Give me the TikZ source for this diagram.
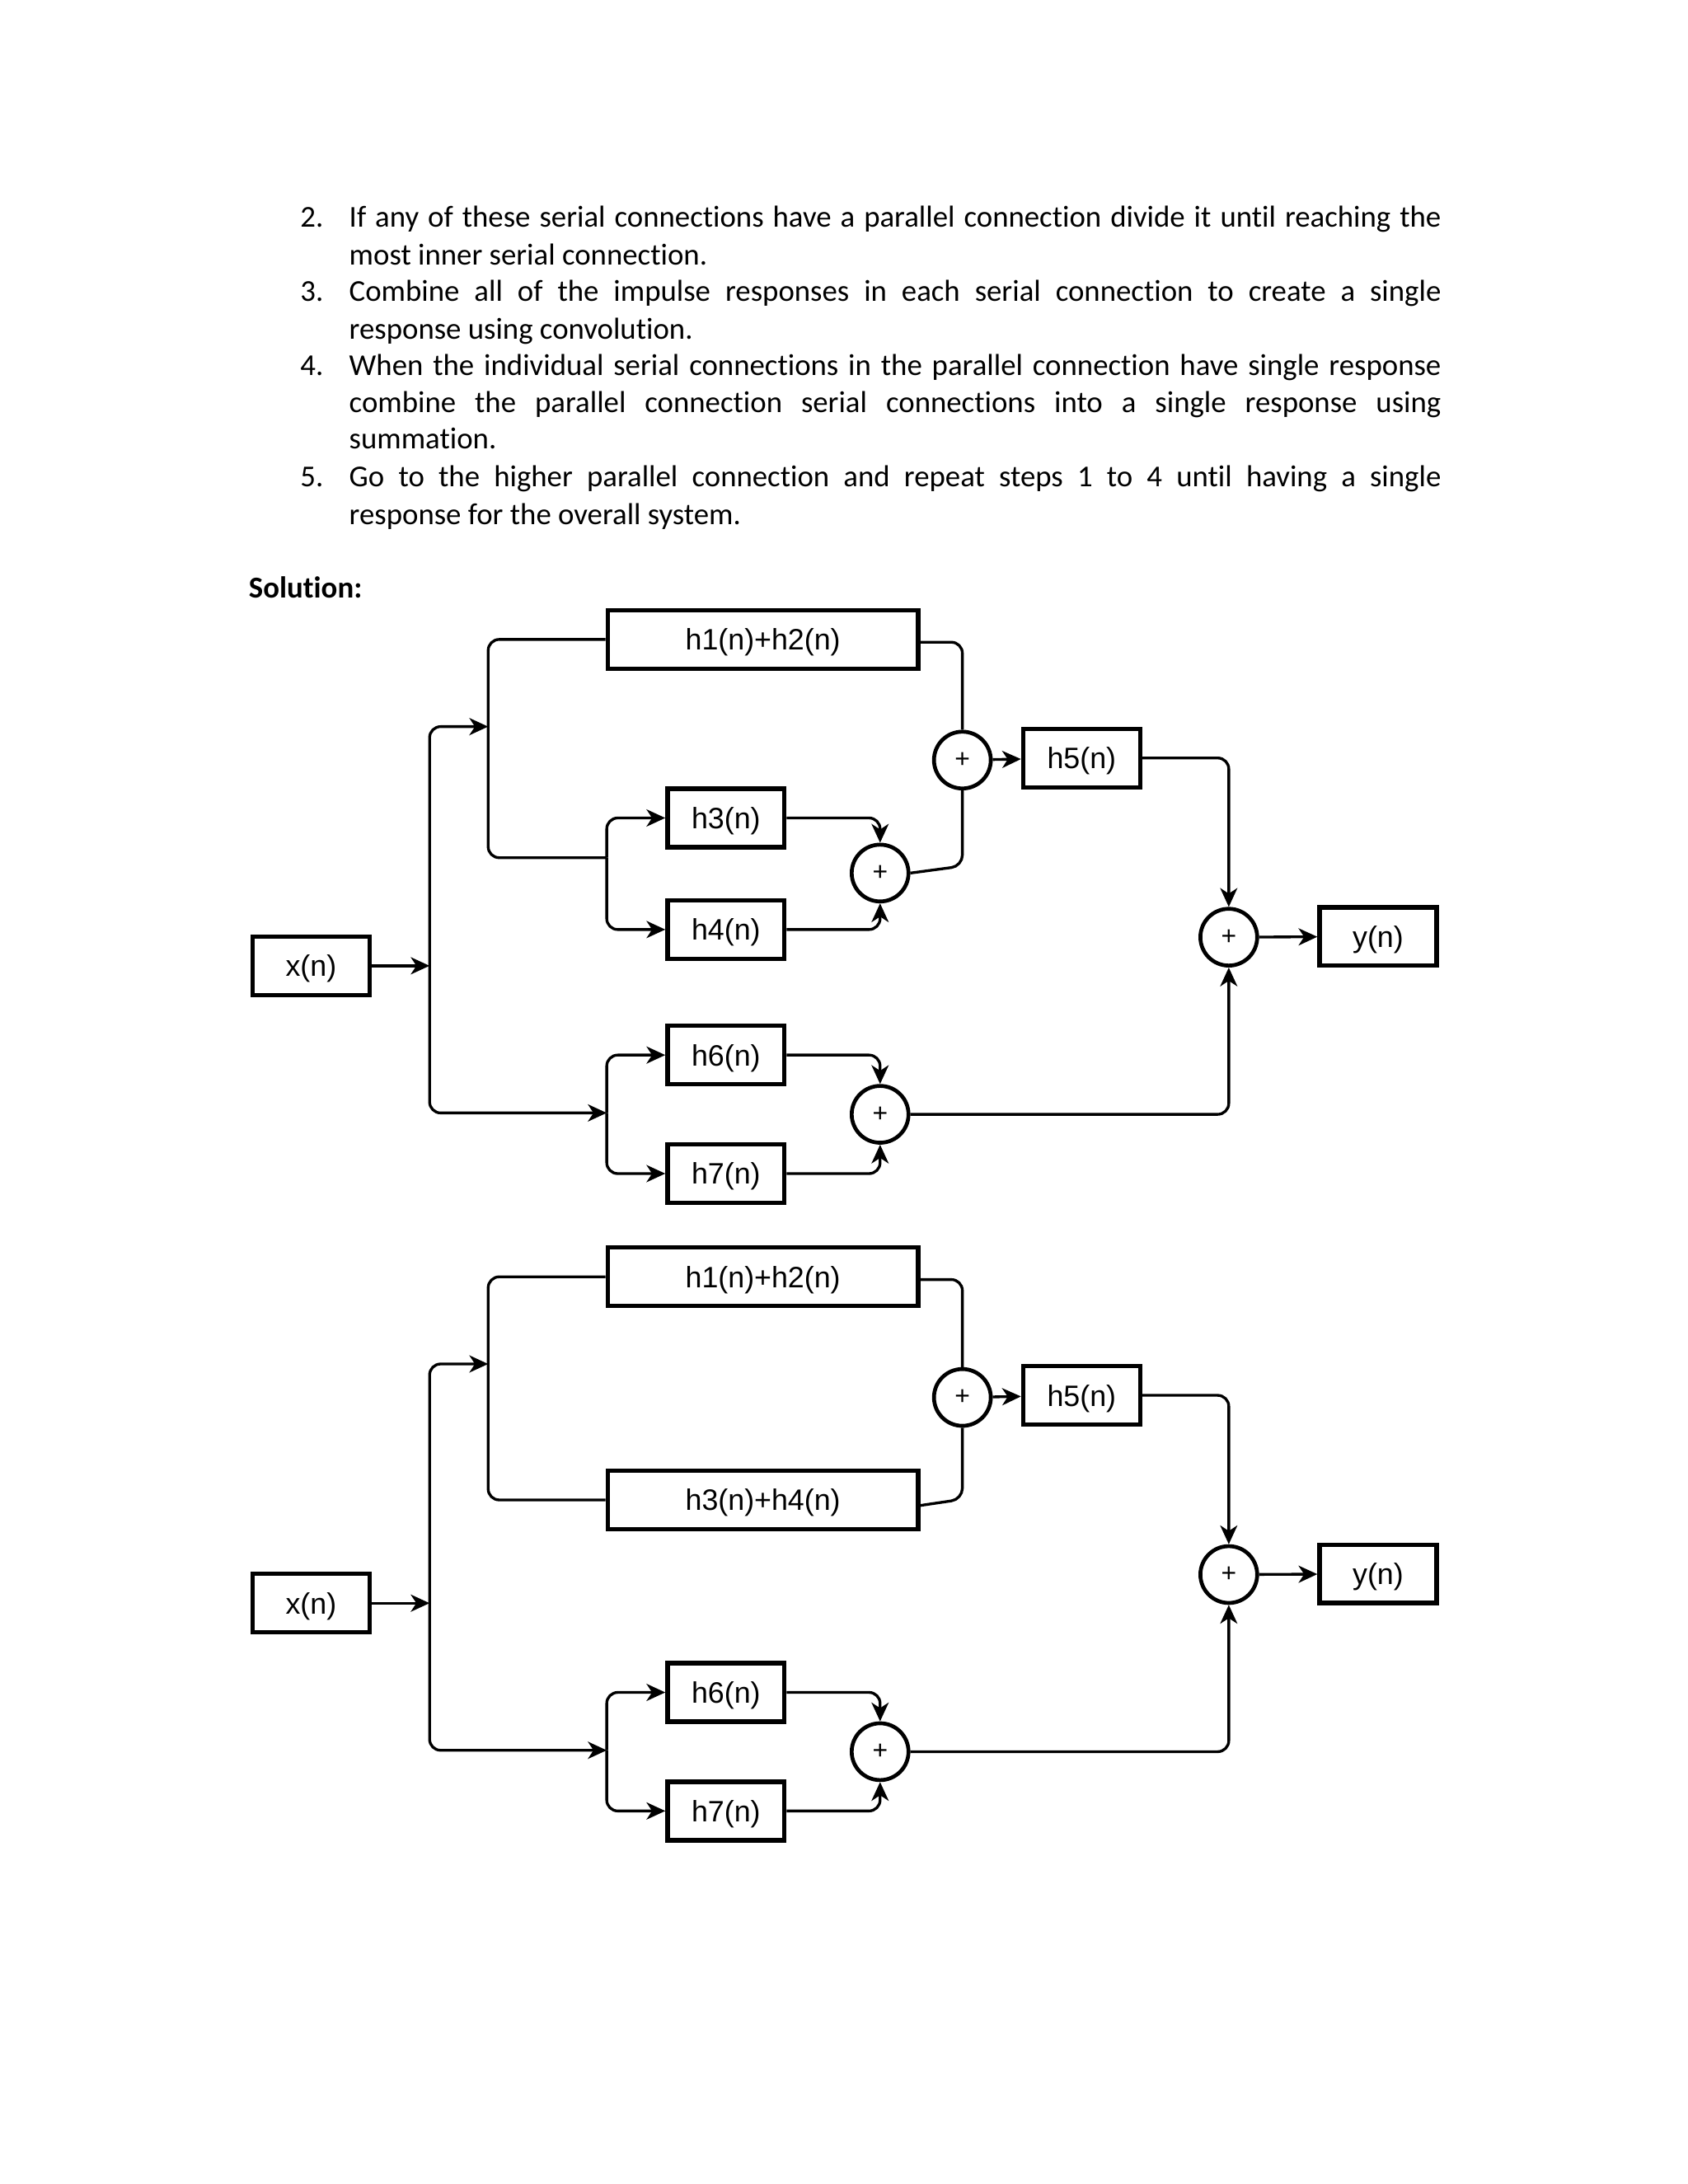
\documentclass[tikz,border=0pt]{standalone}
\usepackage{fontspec}
\setmainfont{Carlito}[Ligatures=NoCommon]
\newfontfamily\arialf{Liberation Sans}
\usetikzlibrary{arrows.meta}
\begin{document}
\begin{tikzpicture}[x=0.5058pt,y=-0.5058pt,
  blk/.style={draw, line width=1.6pt, minimum height=21.2pt, inner sep=0pt, text depth=0pt, font=\arialf\fontsize{10.7}{12}\selectfont},
  sbox/.style={blk, minimum width=42.4pt},
  wbox/.style={blk, minimum width=112.6pt},
  sumn/.style={draw, circle, line width=1.4pt, minimum size=20.6pt, inner sep=0pt, font=\arialf\fontsize{9.5}{10}\selectfont},
  wire/.style={line width=1pt, rounded corners=4pt},
  arr/.style={wire, -{Stealth[length=6.8pt,width=6.2pt,inset=2pt]}},
  txt/.style={anchor=base west, inner sep=0pt, font=\fontsize{11}{13.3}\selectfont},
]
\useasboundingbox (0,0) rectangle (1210,1566);

% ---------- text ----------
\node[txt] (n2) at (215,163) {2.};
\node[txt] (t1) at (250,163) {\hbox to 396pt{If any of these serial connections have a parallel connection divide it until reaching the}};
\node[txt] (t2) at (250,190) {most inner serial connection.};
\node[txt] (n3) at (215,216) {3.};
\node[txt] (t3) at (250,216) {\hbox to 396pt{Combine all of the impulse responses in each serial connection to create a single}};
\node[txt] (t4) at (250,243) {response using convolution.};
\node[txt] (n4) at (215,269) {4.};
\node[txt] (t5) at (250,269) {\hbox to 396pt{When the individual serial connections in the parallel connection have single response}};
\node[txt] (t6) at (250,296) {\hbox to 396pt{combine the parallel connection serial connections into a single response using}};
\node[txt] (t7) at (250,322) {summation.};
\node[txt] (n5) at (215,349) {5.};
\node[txt] (t8) at (250,349) {\hbox to 396pt{Go to the higher parallel connection and repeat steps 1 to 4 until having a single}};
\node[txt] (t9) at (250,376) {response for the overall system.};
\node[txt, font=\fontsize{11}{13.3}\selectfont\bfseries] (sol) at (178,429) {Solution:};

% ---------- diagram 1 ----------
\node[sbox] (xa) at (223,692.5) {x(n)};
\node[wbox] (h12a) at (547,458.5) {h1(n)+h2(n)};
\node[sbox] (h3a) at (520.5,586.5) {h3(n)};
\node[sbox] (h4a) at (520.5,666.5) {h4(n)};
\node[sbox] (h6a) at (520.5,756.5) {h6(n)};
\node[sbox] (h7a) at (520.5,841.5) {h7(n)};
\node[sbox] (h5a) at (775.5,543.5) {h5(n)};
\node[sbox] (ya) at (988,671.5) {y(n)};
\node[sumn] (s1a) at (690,545) {+};
\node[sumn] (s2a) at (631,626) {+};
\node[sumn] (s3a) at (881,672) {+};
\node[sumn] (s4a) at (631,799) {+};

\coordinate (ja) at (308,692.5);
\coordinate (ka) at (350,521);
\coordinate (la) at (435,798);
\coordinate (ma) at (435,615);

\draw[arr] (xa) -- (ja);
\draw[arr] (ja) |- (ka);
\draw[arr] (ja) |- (la);
\draw[wire] (h12a.west) -- (350,458.5) -- (350,615) -- (ma);
\draw[arr] (ma) |- (h3a.west);
\draw[arr] (ma) |- (h4a.west);
\draw[arr] (h3a.east) -| (s2a.north);
\draw[arr] (h4a.east) -| (s2a.south);
\draw[wire] (s2a.east) -- (690,621) -- (s1a.south);
\draw[wire] ([yshift=-1pt]h12a.east) -| (s1a.north);
\draw[arr] (s1a) -- (h5a);
\draw[arr] (h5a.east) -| (s3a.north);
\draw[arr] (la) |- (h6a.west);
\draw[arr] (la) |- (h7a.west);
\draw[arr] (h6a.east) -| (s4a.north);
\draw[arr] (h7a.east) -| (s4a.south);
\draw[arr] (s4a.east) -| (s3a.south);
\draw[arr] (s3a) -- (ya);

% ---------- diagram 2 ----------
\node[sbox] (xb) at (223,1149.5) {x(n)};
\node[wbox] (h12b) at (547,915.5) {h1(n)+h2(n)};
\node[wbox] (h34b) at (547,1075.5) {h3(n)+h4(n)};
\node[sbox] (h6b) at (520.5,1213.5) {h6(n)};
\node[sbox] (h7b) at (520.5,1298.5) {h7(n)};
\node[sbox] (h5b) at (775.5,1000.5) {h5(n)};
\node[sbox] (yb) at (988,1128.5) {y(n)};
\node[sumn] (s1b) at (690,1002) {+};
\node[sumn] (s3b) at (881,1129) {+};
\node[sumn] (s4b) at (631,1256) {+};

\coordinate (jb) at (308,1149.5);
\coordinate (kb) at (350,978);
\coordinate (lb) at (435,1255);

\draw[arr] (xb) -- (jb);
\draw[arr] (jb) |- (kb);
\draw[arr] (jb) |- (lb);
\draw[wire] (h12b.west) -- (350,915.5) -- (350,1075.5) -- (h34b.west);
\draw[wire] ([yshift=-2pt]h34b.east) -- (690,1075) -- (s1b.south);
\draw[wire] ([yshift=-1pt]h12b.east) -| (s1b.north);
\draw[arr] (s1b) -- (h5b);
\draw[arr] (h5b.east) -| (s3b.north);
\draw[arr] (lb) |- (h6b.west);
\draw[arr] (lb) |- (h7b.west);
\draw[arr] (h6b.east) -| (s4b.north);
\draw[arr] (h7b.east) -| (s4b.south);
\draw[arr] (s4b.east) -| (s3b.south);
\draw[arr] (s3b) -- (yb);
\end{tikzpicture}
\end{document}
